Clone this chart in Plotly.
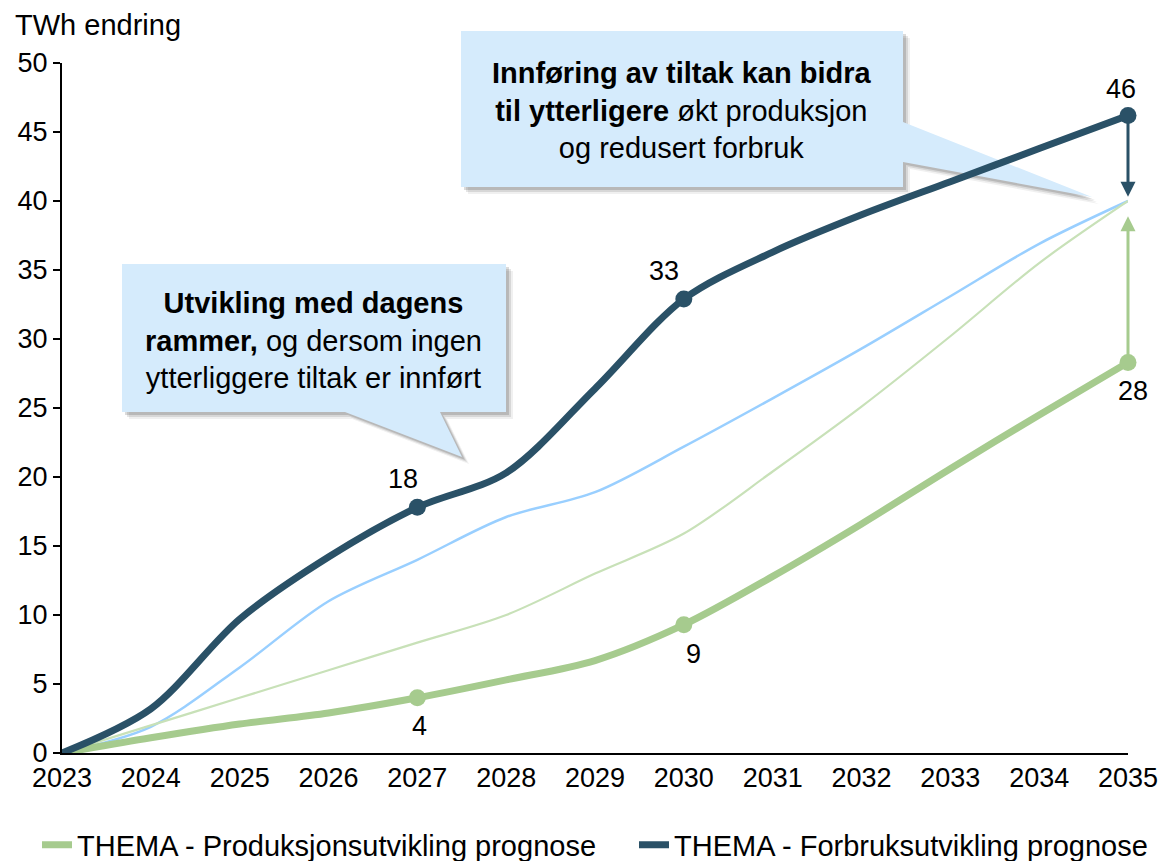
import plotly.graph_objects as go

# ---------------- data ----------------
years = [2023, 2024, 2025, 2026, 2027, 2028, 2029, 2030, 2031, 2032, 2033, 2034, 2035]
forbruk = [0, 3.2, 9.7, 14.2, 17.8, 20.3, 26.4, 32.9, 36.3, 39.0, 41.4, 43.8, 46.2]
produksjon = [0, 1.1, 2.1, 2.9, 4.0, 5.3, 6.7, 9.3, 12.8, 16.6, 20.6, 24.5, 28.3]
forbruk_tiltak = [0, 1.9, 6.2, 11.0, 14.0, 17.1, 18.9, 22.2, 25.7, 29.3, 33.1, 36.9, 40.0]
produksjon_tiltak = [0, 2.0, 4.0, 6.0, 8.0, 10.0, 13.0, 15.9, 20.4, 25.1, 30.2, 35.5, 40.0]
marked_years = [2027, 2030, 2035]
target_value = 40.0

name_prod = "THEMA - Produksjonsutvikling prognose"
name_forb = "THEMA - Forbruksutvikling prognose"
y_title = "TWh endring"
callout_low = ("<b>Utvikling med dagens</b><br><b>rammer,</b> og dersom ingen"
               "<br>ytterliggere tiltak er innført")
callout_high = ("<b>Innføring av tiltak kan bidra</b><br><b>til ytterligere</b> økt produksjon"
                "<br>og redusert forbruk")

# ---------------- style ----------------
DARK = "#2A5167"
GREEN = "#A6CB8E"
LBLUE = "#99CFFF"
LGREEN = "#C8E1B8"
BOX = "#D5EBFC"
FONT = "Liberation Sans, Arial, sans-serif"

W, H = 1161, 861
# plot area in picture pixels
L, R, T, B = 62, 1128, 63, 753


def px(x):
    return (x - L) / (R - L)


def py(y):
    return (B - y) / (B - T)


fig = go.Figure()

fig.add_trace(go.Scatter(x=years, y=forbruk_tiltak, mode="lines",
                         line=dict(color=LBLUE, width=2.5, shape="spline", smoothing=0.9),
                         showlegend=False, cliponaxis=False, hoverinfo="skip"))
fig.add_trace(go.Scatter(x=years, y=produksjon_tiltak, mode="lines",
                         line=dict(color=LGREEN, width=2.2, shape="spline", smoothing=0.9),
                         showlegend=False, cliponaxis=False, hoverinfo="skip"))
fig.add_trace(go.Scatter(x=years, y=produksjon, mode="lines", name=name_prod,
                         line=dict(color=GREEN, width=7, shape="spline", smoothing=0.9),
                         cliponaxis=False, legend="legend"))
fig.add_trace(go.Scatter(x=years, y=forbruk, mode="lines", name=name_forb,
                         line=dict(color=DARK, width=7, shape="spline", smoothing=0.9),
                         cliponaxis=False, legend="legend2"))

# markers at selected years
idx = [years.index(yr) for yr in marked_years]
fig.add_trace(go.Scatter(x=marked_years, y=[produksjon[i] for i in idx], mode="markers",
                         marker=dict(color=GREEN, size=17), showlegend=False, cliponaxis=False))
fig.add_trace(go.Scatter(x=marked_years, y=[forbruk[i] for i in idx], mode="markers",
                         marker=dict(color=DARK, size=17), showlegend=False, cliponaxis=False))

annotations = []
# data labels
dark_shift = [(-14, 28), (-20, 28), (-7, 26)]
green_shift = [(2, -28), (10, -29), (5, -29)]
for k, i in enumerate(idx):
    annotations.append(dict(x=years[i], y=forbruk[i], text=f"{round(forbruk[i])}",
                            showarrow=False, xshift=dark_shift[k][0], yshift=dark_shift[k][1],
                            font=dict(size=27, color="black", family=FONT)))
    annotations.append(dict(x=years[i], y=produksjon[i], text=f"{round(produksjon[i])}",
                            showarrow=False, xshift=green_shift[k][0], yshift=green_shift[k][1],
                            font=dict(size=27, color="black", family=FONT)))

# arrows towards the target
last = years[-1]
annotations.append(dict(x=last, y=target_value + 0.3, ax=last, ay=forbruk[-1],
                        xref="x", yref="y", axref="x", ayref="y", text="",
                        showarrow=True, arrowhead=2, arrowsize=1.0, arrowwidth=3,
                        arrowcolor=DARK, startstandoff=6, standoff=0))
annotations.append(dict(x=last, y=target_value - 1.1, ax=last, ay=produksjon[-1],
                        xref="x", yref="y", axref="x", ayref="y", text="",
                        showarrow=True, arrowhead=2, arrowsize=1.0, arrowwidth=3,
                        arrowcolor=GREEN, startstandoff=6, standoff=0))

# y axis title
annotations.append(dict(x=px(13), y=py(25), xref="paper", yref="paper", text=y_title,
                        showarrow=False, xanchor="left", yanchor="middle",
                        font=dict(size=29, color="black", family=FONT)))

# callout texts
annotations.append(dict(x=px(313), y=py(340), xref="paper", yref="paper", text=callout_low,
                        showarrow=False, xanchor="center", yanchor="middle", align="center",
                        font=dict(size=29, color="black", family=FONT)))
annotations.append(dict(x=px(682), y=py(110), xref="paper", yref="paper", text=callout_high,
                        showarrow=False, xanchor="center", yanchor="middle", align="center",
                        font=dict(size=29, color="black", family=FONT)))


def path_of(points, dx=0, dy=0):
    s = ""
    for k, (x, y) in enumerate(points):
        s += ("M" if k == 0 else "L") + f"{px(x + dx):.5f},{py(y + dy):.5f} "
    return s + "Z"


low_pts = [(122, 264), (506, 264), (506, 412), (440, 412), (462, 457), (345, 412), (122, 412)]
high_pts = [(461, 31), (903, 31), (903, 122), (1092, 197), (903, 162), (903, 187), (461, 187)]

shapes = []
for pts in (low_pts, high_pts):
    for off, a in ((7, 0.06), (5, 0.10), (3, 0.14)):
        shapes.append(dict(type="path", path=path_of(pts, off, off), xref="paper", yref="paper",
                           fillcolor=f"rgba(0,0,0,{a})", line=dict(width=0), layer="below"))
    shapes.append(dict(type="path", path=path_of(pts), xref="paper", yref="paper",
                       fillcolor=BOX, line=dict(width=0), layer="below"))

legend_font = dict(size=29, color="black", family=FONT)
fig.update_layout(
    width=W, height=H,
    margin=dict(l=L, r=W - R, t=T, b=H - B, autoexpand=False),
    paper_bgcolor="white", plot_bgcolor="rgba(0,0,0,0)",
    font=dict(family=FONT, size=27, color="black"),
    showlegend=True,
    legend=dict(orientation="h", x=px(37), xanchor="left", y=py(845), yanchor="middle",
                font=legend_font, bgcolor="rgba(0,0,0,0)"),
    legend2=dict(orientation="h", x=px(634), xanchor="left", y=py(845), yanchor="middle",
                 font=legend_font, bgcolor="rgba(0,0,0,0)"),
    annotations=annotations,
    shapes=shapes,
    xaxis=dict(range=[years[0], years[-1]], tickmode="array", tickvals=years,
               ticktext=[str(y) for y in years], showgrid=False, zeroline=False,
               showline=True, linecolor="black", linewidth=2, ticks="",
               tickfont=dict(size=27, color="black", family=FONT)),
    yaxis=dict(range=[0, 50], dtick=5, showgrid=False, zeroline=False,
               showline=True, linecolor="black", linewidth=2, ticks="outside",
               ticklen=7, tickwidth=2, tickcolor="black",
               tickfont=dict(size=27, color="black", family=FONT)),
)

fig.write_html("out.html", config={"displayModeBar": False},
               post_script="document.body.style.margin='0';document.body.style.overflow='hidden';")
